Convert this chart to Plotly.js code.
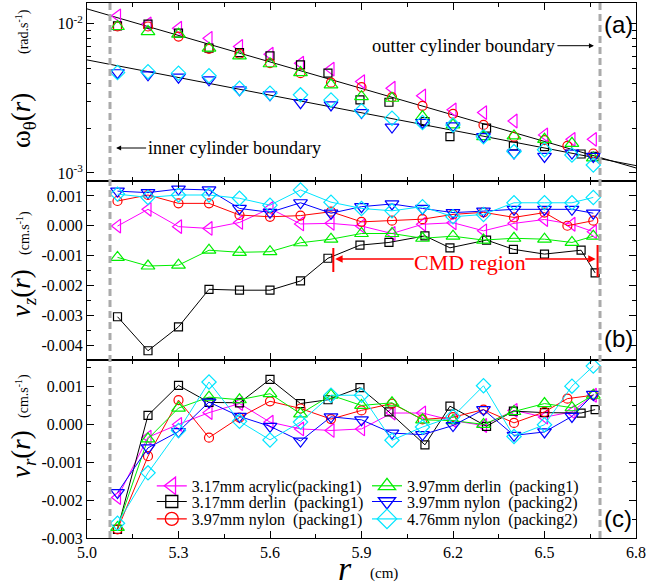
<!DOCTYPE html>
<html>
<head>
<meta charset="utf-8">
<script src="https://cdn.plot.ly/plotly-3.0.1.min.js"></script>
<style>
  html, body { margin: 0; padding: 0; background: #fff; }
  #chart { width: 646px; height: 588px; }
</style>
</head>
<body>
<div id="chart"></div>
<script>
// Radial positions (cm) of the measurement bins
const rStd   = [5.1, 5.2, 5.3, 5.4, 5.5, 5.6, 5.7, 5.8, 5.9, 6.0, 6.1, 6.2, 6.3, 6.4, 6.5, 6.59, 6.66];
const rBlack = [5.1, 5.2, 5.3, 5.4, 5.5, 5.6, 5.7, 5.79, 5.895, 5.99, 6.108, 6.19, 6.31, 6.398, 6.5, 6.62, 6.666];
const rRed   = [5.1, 5.2, 5.3, 5.4, 5.5, 5.6, 5.7, 5.8, 5.9, 6.0, 6.1, 6.2, 6.3, 6.4, 6.5, 6.575, 6.66];

// (a) angular velocity omega_theta (rad/s)
const omAcrylic317 = [0.01132, 0.0100, 0.00935, 0.0080, 0.00705, 0.00626, 0.00545, 0.00497, 0.0041, 0.0037, 0.00329, 0.00265, 0.00254, 0.00223, 0.0018, 0.00168, 0.00168];
const omDerlin317  = [0.0097, 0.00995, 0.00866, 0.00687, 0.00642, 0.0061, 0.00531, 0.00467, 0.00309, 0.00298, 0.00221, 0.00175, 0.0020, 0.00152, 0.0015, 0.00134, 0.00129];
const omNylon397p1 = [0.0096, 0.0096, 0.00822, 0.00679, 0.00629, 0.00545, 0.00467, 0.00403, 0.00376, 0.00322, 0.00282, 0.00249, 0.0021, 0.00175, 0.00166, 0.00152, 0.00135];
const omDerlin397  = [0.0096, 0.00888, 0.00853, 0.00687, 0.0061, 0.0054, 0.00471, 0.0039, 0.00325, 0.00317, 0.00239, 0.0021, 0.00175, 0.00177, 0.00168, 0.00158, 0.00126];
const omNylon397p2 = [0.0047, 0.00455, 0.00439, 0.00421, 0.00361, 0.00334, 0.00296, 0.00286, 0.00254, 0.00203, 0.00218, 0.00207, 0.00175, 0.00136, 0.00129, 0.00136, 0.00129];
const omNylon476   = [0.00471, 0.00478, 0.00467, 0.00448, 0.0037, 0.00343, 0.00334, 0.00309, 0.00261, 0.00233, 0.00218, 0.0021, 0.00175, 0.00139, 0.00143, 0.00132, 0.00113];

// (a) fitted profiles, end points at r = 5.0 and r = 6.8
const fitR     = [5.0, 6.8];
const fitUpper = [0.0126, 0.00108];
const fitLower = [0.00573, 0.00112];

// (b) vertical velocity v_z (cm/s)
const vzAcrylic317 = [-0.00001, 0.00055, -0.00003, -0.00009, 0.00011, 0.00058, 0.00006, 0.00008, -0.00001, -0.00026, 0.00005, 0.0001, -0.00017, 0.00008, 0.00021, 0.00005, -0.0002];
const vzDerlin317  = [-0.00305, -0.00419, -0.00339, -0.00213, -0.00216, -0.00216, -0.00185, -0.00109, -0.00065, -0.00056, -0.00034, -0.00074, -0.00048, -0.00079, -0.00095, -0.00082, -0.00158];
const vzNylon397p1 = [0.00083, 0.00103, 0.00075, 0.00075, 0.00036, 0.0003, 0.00034, 0.00047, 0.00013, 0.00017, 0.00022, 0.00038, 0.00045, 0.00028, 0.00044, 0.0, 0.00017];
const vzDerlin397  = [-0.00106, -0.00135, -0.00132, -0.00082, -0.00089, -0.00087, -0.00057, -0.00045, -0.00026, -0.00026, -0.00042, -0.00035, -0.00048, -0.00042, -0.00045, -0.00056, -0.00035];
const vzNylon397p2 = [0.00116, 0.00111, 0.00123, 0.0012, 0.00058, 0.00045, 0.00077, 0.00042, 0.00064, 0.00073, 0.00058, 0.00044, 0.00049, 0.00055, 0.00055, 0.00055, 0.00042];
const vzNylon476   = [0.00106, 0.00095, 0.00103, 0.00103, 0.00092, 0.00069, 0.0012, 0.00079, 0.00058, 0.0005, 0.00064, 0.0003, 0.00038, 0.00077, 0.00077, 0.00077, 0.00095];

// (c) radial velocity v_r (cm/s)
const vrAcrylic317 = [-0.00193, -0.00034, 0.0, 0.00031, 0.00055, 0.00006, -0.00012, -0.00016, -0.00012, 0.0003, 0.0003, 0.0001, -0.00003, 0.00037, 0.00019, 0.00033, 0.00077];
const vrDerlin317  = [-0.00277, 0.00024, 0.00103, 0.00058, 0.00057, 0.00119, 0.00055, 0.00065, 0.00097, 0.00033, -0.00054, 0.00048, -0.00005, 0.00035, 0.00031, 0.0003, 0.00039];
const vrNylon397p1 = [-0.00277, -0.00084, 0.00064, -0.00035, 0.00018, 0.00061, 0.00042, 0.00014, 0.00037, 0.00055, 0.00013, 0.00019, 0.00039, 0.00004, 0.00033, 0.00068, 0.00077];
const vrDerlin397  = [-0.00272, -0.00038, 0.00043, 0.00072, 0.00065, 0.00081, 0.00028, 0.00077, 0.0005, 0.00057, 0.00012, 0.0001, 0.0, 0.00034, 0.00055, 0.00044, 0.00077];
const vrNylon397p2 = [-0.0018, -0.00062, -0.00019, 0.00059, 0.00021, -0.00005, -0.00044, 0.0002, 0.00012, -0.00023, -0.00027, -0.00003, 0.00039, -0.00029, -0.0002, 0.00021, 0.00079];
const vrNylon476   = [-0.00261, -0.00128, -0.00016, 0.00112, 0.00008, -0.00041, 0.00006, 0.00077, 0.00077, -0.00042, -0.00007, 0.00021, 0.00102, -0.00032, -0.00001, 0.00101, 0.00154];

// Cylinder walls and CMD region limits (cm)
const innerWall = 5.0754;
const outerWall = 6.682;
const cmdStart = 5.8076;
const cmdEnd = 6.674;

// Axis ticks
const xTickVals = [5.0, 5.3, 5.6, 5.9, 6.2, 6.5, 6.8];
const xTickText = ['5.0', '5.3', '5.6', '5.9', '6.2', '6.5', '6.8'];
const omTickVals = [0.001, 0.01];
const omTickText = ['10<sup>-3</sup>', '10<sup>-2</sup>'];
const omMinorVals = [0.002, 0.003, 0.004, 0.005, 0.006, 0.007, 0.008, 0.009];
const vzTickVals = [-0.004, -0.003, -0.002, -0.001, 0.0, 0.001];
const vzTickText = ['-0.004', '-0.003', '-0.002', '-0.001', '0.000', '0.001'];
const vrTickVals = [-0.003, -0.002, -0.001, 0.0, 0.001];
const vrTickText = ['-0.003', '-0.002', '-0.001', '0.000', '0.001'];

// Series descriptions
const series = [
  { name: '3.17mm acrylic(packing1)', color: '#ff00ff', symbol: 'triangle-left-open', size: 12, key: 15, r: rStd,   om: omAcrylic317, vz: vzAcrylic317, vr: vrAcrylic317 },
  { name: '3.17mm derlin  (packing1)', color: '#000000', symbol: 'square-open',        size: 8,  key: 12, r: rBlack, om: omDerlin317,  vz: vzDerlin317,  vr: vrDerlin317 },
  { name: '3.97mm nylon  (packing1)',  color: '#ff0000', symbol: 'circle-open',        size: 9,  key: 13, r: rRed,   om: omNylon397p1, vz: vzNylon397p1, vr: vrNylon397p1 },
  { name: '3.97mm derlin  (packing1)', color: '#00ee00', symbol: 'triangle-up-open',   size: 12, key: 15, r: rStd,   om: omDerlin397,  vz: vzDerlin397,  vr: vrDerlin397 },
  { name: '3.97mm nylon  (packing2)',  color: '#0000ff', symbol: 'triangle-down-open', size: 12, key: 15, r: rStd,   om: omNylon397p2, vz: vzNylon397p2, vr: vrNylon397p2 },
  { name: '4.76mm nylon  (packing2)',  color: '#00e5ff', symbol: 'diamond-open',       size: 11, key: 15, r: rStd,   om: omNylon476,   vz: vzNylon476,   vr: vrNylon476 }
];

const serif = 'Liberation Serif';
const sans = 'Liberation Sans';
const traces = [];

// fitted lines in (a)
[fitUpper, fitLower].forEach(f => traces.push({
  x: fitR, y: f, xaxis: 'x3', yaxis: 'y3', mode: 'lines',
  line: { color: '#000', width: 1 }, showlegend: false, hoverinfo: 'skip'
}));

series.forEach(s => {
  const mk = { symbol: s.symbol, size: s.size, color: s.color, line: { color: s.color, width: 1.2 } };
  traces.push({ x: s.r, y: s.om, xaxis: 'x3', yaxis: 'y3', mode: 'markers', marker: mk, showlegend: false });
  traces.push({ x: s.r, y: s.vz, xaxis: 'x2', yaxis: 'y2', mode: 'lines+markers', marker: mk, line: { color: s.color, width: 1 }, showlegend: false });
  traces.push({ x: s.r, y: s.vr, xaxis: 'x', yaxis: 'y', mode: 'lines+markers', marker: mk, line: { color: s.color, width: 1 }, showlegend: false });
});

// legend keys, one legend box per entry (two columns of three)
const legendPos = [
  [0.118, 0.0974], [0.118, 0.0680], [0.118, 0.0355],
  [0.510, 0.0974], [0.510, 0.0680], [0.510, 0.0355]
];
const legends = {};
series.forEach((s, i) => {
  const lid = i === 0 ? 'legend' : 'legend' + (i + 1);
  traces.push({
    x: [null], y: [null], xaxis: 'x', yaxis: 'y', mode: 'lines+markers', name: s.name,
    legend: lid, showlegend: true,
    marker: { symbol: s.symbol, size: s.key, color: s.color, line: { color: s.color, width: 1.3 } },
    line: { color: s.color, width: 1.2 }
  });
  legends[lid] = {
    x: legendPos[i][0], y: legendPos[i][1], xanchor: 'left', yanchor: 'middle',
    bgcolor: 'rgba(0,0,0,0)', borderwidth: 0,
    font: { family: serif, size: 16, color: '#000' },
    itemsizing: 'trace', tracegroupgap: 0
  };
});

const xCommon = {
  range: [5.0, 6.8], showline: true, linecolor: '#000', linewidth: 1, mirror: 'ticks',
  ticks: 'inside', ticklen: 7, tickcolor: '#000', tickmode: 'array', tickvals: xTickVals, ticktext: xTickText,
  minor: { ticks: 'inside', tickmode: 'linear', tick0: 5.0, dtick: 0.15, ticklen: 4, tickcolor: '#000' },
  showgrid: false, zeroline: false, tickfont: { family: serif, size: 16, color: '#000' }
};
const yCommon = {
  showline: true, linecolor: '#000', linewidth: 1, mirror: 'ticks',
  ticks: 'inside', ticklen: 7, tickcolor: '#000', showgrid: false, zeroline: false,
  tickfont: { family: serif, size: 16, color: '#000' }, tickmode: 'array'
};

const P = (px) => (px - 87) / 549;      // horizontal pixel -> paper
const Q = (py) => (538 - py) / 535;     // vertical pixel -> paper

const annFont = (sz, c) => ({ family: serif, size: sz, color: c || '#000' });
const vTitle = (py, text, sz) => ({ xref: 'paper', yref: 'paper', x: P(23), y: Q(py), text: text, textangle: -90, showarrow: false, font: annFont(sz), xanchor: 'center', yanchor: 'middle' });
const tag = (py, text) => ({ xref: 'paper', yref: 'paper', x: P(618), y: Q(py), text: text, showarrow: false, font: { family: sans, size: 24, color: '#000' }, xanchor: 'center', yanchor: 'middle' });

const annotations = [
  // axis titles
  vTitle(121, 'ω<sub>θ</sub>(<i>r</i>)', 27),
  vTitle(32, '(rad.s<sup>-1</sup>)', 14),
  vTitle(293, '<i>v</i><sub><i>z</i></sub>(<i>r</i>)', 27),
  vTitle(233, '(cm.s<sup>-1</sup>)', 14),
  vTitle(454, '<i>v</i><sub><i>r</i></sub>(<i>r</i>)', 27),
  vTitle(396, '(cm.s<sup>-1</sup>)', 14),
  { xref: 'paper', yref: 'paper', x: P(345), y: Q(568), text: '<i>r</i>', showarrow: false, font: annFont(34), xanchor: 'center', yanchor: 'middle' },
  { xref: 'paper', yref: 'paper', x: P(384), y: Q(573), text: '(cm)', showarrow: false, font: annFont(15), xanchor: 'center', yanchor: 'middle' },
  // panel tags
  tag(24, '(a)'), tag(338, '(b)'), tag(518, '(c)'),
  // wall labels
  { xref: 'x', yref: 'paper', x: innerWall + 0.02, y: Q(148), ax: 118, ay: 0, text: 'inner cylinder boundary', showarrow: true, arrowhead: 2, arrowsize: 1, arrowwidth: 1, arrowcolor: '#000', font: annFont(18) },
  { xref: 'x', yref: 'paper', x: outerWall - 0.02, y: Q(45.7), ax: -130, ay: 0, text: 'outter cylinder boundary', showarrow: true, arrowhead: 2, arrowsize: 1, arrowwidth: 1, arrowcolor: '#000', font: annFont(18.5) },
  // CMD region
  { xref: 'paper', yref: 'paper', x: P(470), y: Q(262), text: 'CMD region', showarrow: false, font: annFont(22, '#ff0000'), xanchor: 'center', yanchor: 'middle' },
  { xref: 'x', yref: 'paper', x: cmdStart + 0.006, y: Q(259), ax: 80, ay: 0, text: '', showarrow: true, arrowhead: 2, arrowsize: 1, arrowwidth: 1.5, arrowcolor: '#ff0000' },
  { xref: 'x', yref: 'paper', x: cmdEnd - 0.006, y: Q(259), ax: -72, ay: 0, text: '', showarrow: true, arrowhead: 2, arrowsize: 1, arrowwidth: 1.5, arrowcolor: '#ff0000' }
];

const shapes = [
  { type: 'line', xref: 'x', yref: 'paper', x0: innerWall, x1: innerWall, y0: 0, y1: 1, line: { color: '#aaaaaa', width: 3, dash: '7px,4px' }, layer: 'above' },
  { type: 'line', xref: 'x', yref: 'paper', x0: outerWall, x1: outerWall, y0: 0, y1: 1, line: { color: '#aaaaaa', width: 3, dash: '7px,4px' }, layer: 'above' },
  { type: 'line', xref: 'x', yref: 'paper', x0: cmdStart, x1: cmdStart, y0: Q(272), y1: Q(248), line: { color: '#ff0000', width: 2 } },
  { type: 'line', xref: 'x', yref: 'paper', x0: cmdEnd, x1: cmdEnd, y0: Q(277), y1: Q(245), line: { color: '#ff0000', width: 2 } }
];

const layout = Object.assign({
  width: 646, height: 588,
  margin: { l: 87, r: 10, t: 3, b: 50, pad: 0 },
  paper_bgcolor: '#fff', plot_bgcolor: '#fff',
  font: { family: serif, size: 16, color: '#000' },
  xaxis: Object.assign({}, xCommon, { anchor: 'y', domain: [0, 1] }),
  xaxis2: Object.assign({}, xCommon, { anchor: 'y2', matches: 'x', showticklabels: false }),
  xaxis3: Object.assign({}, xCommon, { anchor: 'y3', matches: 'x', showticklabels: false }),
  yaxis: Object.assign({}, yCommon, {
    domain: [0, 0.3327], range: [-0.003, 0.0017], tickvals: vrTickVals, ticktext: vrTickText,
    minor: { ticks: 'inside', tickmode: 'linear', tick0: 0, dtick: 0.0005, ticklen: 4, tickcolor: '#000' }
  }),
  yaxis2: Object.assign({}, yCommon, {
    domain: [0.3327, 0.6673], range: [-0.0045, 0.0015], tickvals: vzTickVals, ticktext: vzTickText,
    minor: { ticks: 'inside', tickmode: 'linear', tick0: 0, dtick: 0.0005, ticklen: 4, tickcolor: '#000' }
  }),
  yaxis3: Object.assign({}, yCommon, {
    domain: [0.6673, 1], type: 'log', range: [Math.log10(0.000883), Math.log10(0.0138)],
    tickvals: omTickVals, ticktext: omTickText,
    minor: { ticks: 'inside', tickmode: 'array', tickvals: omMinorVals, ticklen: 4, tickcolor: '#000' }
  }),
  annotations: annotations,
  shapes: shapes
}, legends);

Plotly.newPlot('chart', traces, layout, { displayModeBar: false, staticPlot: true });
</script>
</body>
</html>
